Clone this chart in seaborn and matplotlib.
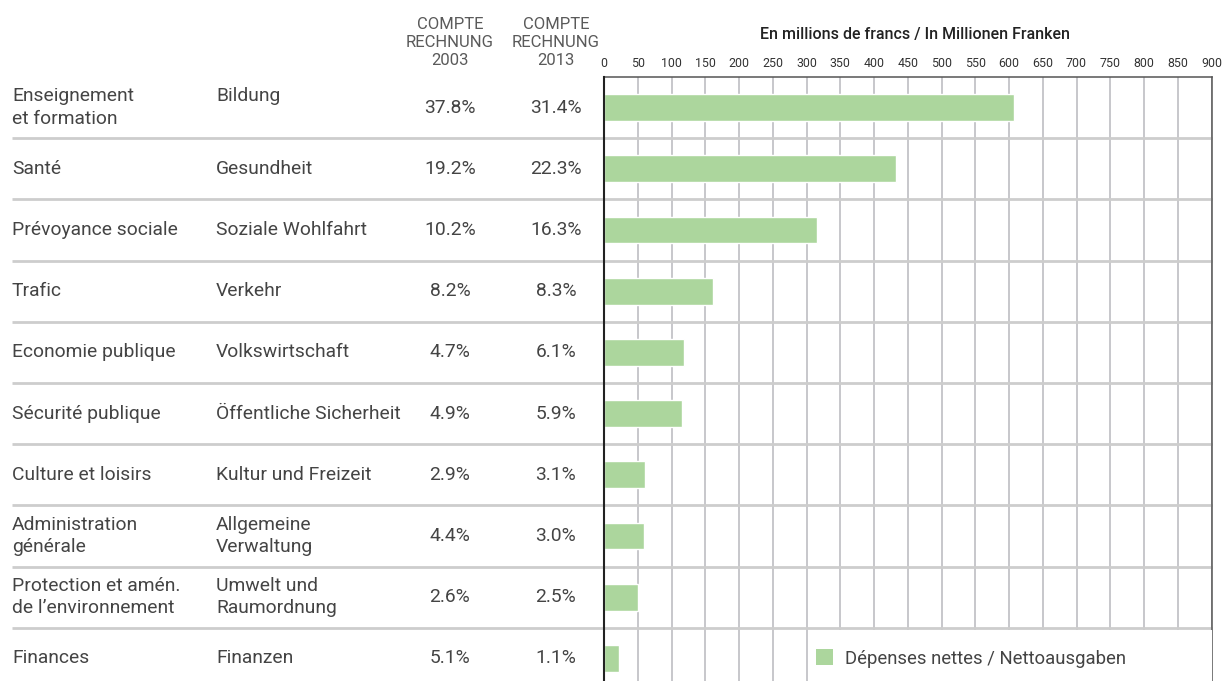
import matplotlib
matplotlib.use("Agg")
import matplotlib.pyplot as plt
import matplotlib.transforms as mtransforms
from matplotlib.patches import Patch, Rectangle
import seaborn as sns
import pandas as pd

# ---------------- data ----------------
labels_fr = ["Enseignement\net formation", "Santé", "Prévoyance sociale", "Trafic",
             "Economie publique", "Sécurité publique", "Culture et loisirs",
             "Administration\ngénérale", "Protection et amén.\nde l’environnement", "Finances"]
labels_de = ["Bildung", "Gesundheit", "Soziale Wohlfahrt", "Verkehr", "Volkswirtschaft",
             "Öffentliche Sicherheit", "Kultur und Freizeit", "Allgemeine\nVerwaltung",
             "Umwelt und\nRaumordnung", "Finanzen"]
share_2003 = ["37.8%", "19.2%", "10.2%", "8.2%", "4.7%", "4.9%", "2.9%", "4.4%", "2.6%", "5.1%"]
share_2013 = ["31.4%", "22.3%", "16.3%", "8.3%", "6.1%", "5.9%", "3.1%", "3.0%", "2.5%", "1.1%"]
net_expenses = [608, 432, 316, 161, 118, 115, 60, 59, 51, 22]
x_ticks = list(range(0, 901, 50))
header_2003 = "COMPTE\nRECHNUNG\n2003"
header_2013 = "COMPTE\nRECHNUNG\n2013"
axis_title = "En millions de francs / In Millionen Franken"
legend_label = "Dépenses nettes / Nettoausgaben"

df = pd.DataFrame({"cat": labels_fr, "value": net_expenses})

# ---------------- style ----------------
sns.set_theme(style="white")
plt.rcParams["font.family"] = ["Roboto", "DejaVu Sans"]
TXT = "#444444"
GRAY = "#5a5a5a"
BAR = "#acd69d"
W, H = 1223, 681

fig = plt.figure(figsize=(W / 100, H / 100), dpi=100)
ax_left, ax_right, ax_top = 604 / W, 1211.5 / W, 1 - 77 / H
ax = fig.add_axes([ax_left, 0, ax_right - ax_left, ax_top])

sns.barplot(data=df, x="value", y="cat", orient="h", color=BAR, width=0.44,
            saturation=1, ax=ax, zorder=3)

row_px = 61.2
ax.set_xlim(0, 900)
ax.set_ylim(-0.5 + (ax_top * H) / row_px, -0.5)
ax.set_xticks(x_ticks)
ax.set_xticklabels([str(t) for t in x_ticks])
ax.xaxis.tick_top()
ax.tick_params(axis="x", length=0, pad=4.8, labelsize=8.9, labelcolor="#333333")
ax.set_yticks([])
ax.set_xlabel("")
ax.set_ylabel("")
ax.grid(axis="x", color="#b8b8bd", linewidth=1.1, zorder=1)
ax.set_axisbelow(True)
ax.spines["bottom"].set_visible(False)
ax.spines["left"].set_color("#222222")
ax.spines["left"].set_linewidth(1.5)
ax.spines["left"].set_zorder(5)
for s in ["top", "right"]:
    ax.spines[s].set_color("#555555")
    ax.spines[s].set_linewidth(1.1)

# horizontal row separators spanning the table
blend = mtransforms.blended_transform_factory(fig.transFigure, ax.transData)
for i in range(len(labels_fr) - 1):
    ax.plot([12 / W, ax_right], [i + 0.5, i + 0.5], transform=blend, color="#cdcdcd",
            linewidth=2, clip_on=False, zorder=2, solid_capstyle="butt")

# table text
fs = 13.9
for i in range(len(labels_fr)):
    fr, de = labels_fr[i], labels_de[i]
    nfr, nde = fr.count("\n") + 1, de.count("\n") + 1
    n = max(nfr, nde)
    fr_t = fr + "\n " * (n - nfr)
    de_t = de + "\n " * (n - nde)
    kw = dict(transform=blend, va="center", fontsize=fs, color=TXT, linespacing=1.32)
    ax.text(12 / W, i, fr_t, ha="left", **kw)
    ax.text(216 / W, i, de_t, ha="left", **kw)
    ax.text(450 / W, i, share_2003[i], ha="center", **kw)
    ax.text(556 / W, i, share_2013[i], ha="center", **kw)

# column headers
for x, h in [(450, header_2003), (556, header_2013)]:
    fig.text(x / W, 1 - 42.5 / H, h, ha="center", va="center", fontsize=12,
             color=GRAY, linespacing=1.22)
fig.text(915 / W, 1 - 35 / H, axis_title, ha="center", va="center", fontsize=11.5,
         color="#222222", fontweight="medium")

# legend area (white box over the grid in the last row)
ax.add_patch(Rectangle((302, 8.53), 598, 2, facecolor="white", edgecolor="none", zorder=4))
leg = ax.legend(handles=[Patch(facecolor=BAR, edgecolor="none", label=legend_label)],
                loc="center left", bbox_to_anchor=(314, 9.0), bbox_transform=ax.transData,
                frameon=False, prop={"size": 13.3}, handlelength=0.95,
                handleheight=0.95, handletextpad=0.62, borderpad=0, borderaxespad=0,
                labelcolor=TXT)
leg.set_zorder(6)

fig.savefig("out.png", dpi=100)
